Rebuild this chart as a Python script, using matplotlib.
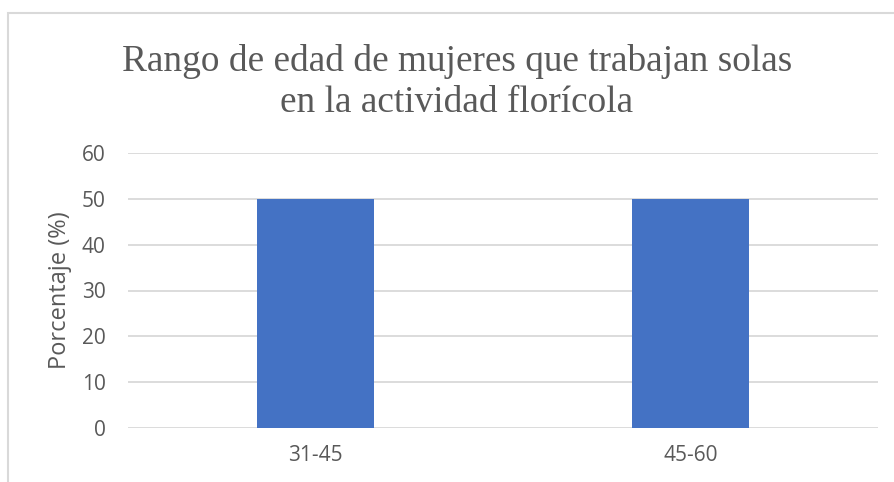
import matplotlib
matplotlib.use("Agg")
import matplotlib.pyplot as plt
from matplotlib.patches import Rectangle

# data
categories = ["31-45", "45-60"]
porcentaje = [50, 50]
yticks = [0, 10, 20, 30, 40, 50, 60]

text_color = "#595959"
grid_color = "#D9D9D9"

fig = plt.figure(figsize=(8.94, 4.82), dpi=100)
ax = fig.add_axes([128/894, 1 - 428/482, 750/894, 275/482])

ax.bar(range(len(categories)), porcentaje, width=0.3125, color="#4472C4", zorder=3)
ax.set_xlim(-0.5, len(categories) - 0.5)
ax.set_ylim(0, 60)
ax.set_yticks(yticks)
ax.set_xticks(range(len(categories)))
ax.set_xticklabels(categories)

for s in ax.spines.values():
    s.set_visible(False)
ax.yaxis.grid(True, color=grid_color, linewidth=1.3, zorder=0)
ax.tick_params(length=0, labelsize=15, labelcolor=text_color)
ax.tick_params(axis="y", pad=16)
ax.tick_params(axis="x", pad=12)
for lab in ax.get_xticklabels() + ax.get_yticklabels():
    lab.set_family("Open Sans")

ax.set_ylabel("Porcentaje (%)", fontsize=17, color=text_color, family="Open Sans")
ax.yaxis.set_label_coords(-68/750, 0.5)
ax.yaxis.label.set_va("center")

fig.text(457/894, 1 - 82/482, "Rango de edad de mujeres que trabajan solas\nen la actividad florícola",
         ha="center", va="center", fontsize=26.8, color=text_color, family="Liberation Serif",
         linespacing=1.28)

# chart frame (extends beyond the picture on right and bottom)
fig.patches.append(Rectangle((8/894, -0.1), 2, 1 - 13/482 + 0.1, transform=fig.transFigure,
                             fill=False, edgecolor=grid_color, linewidth=1.5))

fig.savefig("out.png", dpi=100)
